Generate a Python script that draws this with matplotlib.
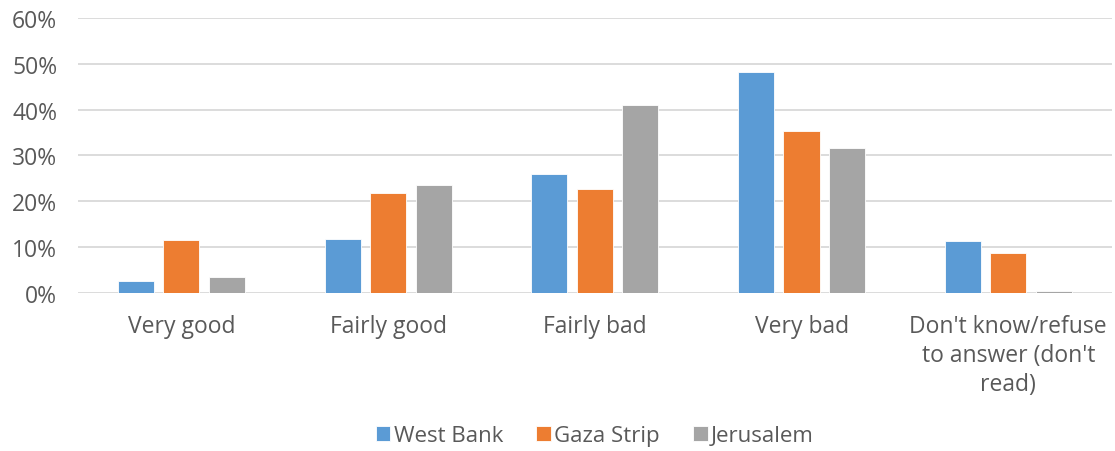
import numpy as np
import matplotlib.pyplot as plt
from matplotlib.ticker import PercentFormatter

categories = ["Very good", "Fairly good", "Fairly bad", "Very bad",
              "Don't know/refuse\nto answer (don't\nread)"]
west_bank = [2.5, 11.8, 25.9, 48.3, 11.4]
gaza_strip = [11.5, 21.7, 22.7, 35.4, 8.7]
jerusalem = [3.4, 23.5, 41.0, 31.6, 0.3]

series = [("West Bank", west_bank, "#5b9bd5"),
          ("Gaza Strip", gaza_strip, "#ed7d31"),
          ("Jerusalem", jerusalem, "#a5a5a5")]

plt.rcParams['font.family'] = ['Open Sans', 'DejaVu Sans']
text_color = "#595959"

fig = plt.figure(figsize=(11.15, 4.52), dpi=100)
ax = fig.add_axes([0.07, 0.35, 0.927, 0.608])

x = np.arange(len(categories))
width = 0.175
step = 0.22
for i, (name, vals, color) in enumerate(series):
    ax.bar(x + (i - 1) * step, vals, width, color=color, label=name,
           edgecolor="white", linewidth=0.6, zorder=3)

ax.set_xlim(-0.5, len(categories) - 0.5)
ax.set_ylim(0, 60)
ax.set_yticks(range(0, 61, 10))
ax.yaxis.set_major_formatter(PercentFormatter(decimals=0))
ax.grid(axis="y", color="#d9d9d9", linewidth=1.3, zorder=0)
for s in ax.spines.values():
    s.set_visible(False)
ax.tick_params(axis="both", length=0, labelsize=16.5, colors=text_color)
ax.tick_params(axis="y", pad=15)
ax.tick_params(axis="x", pad=15)
ax.set_xticks(x)
ax.set_xticklabels(categories, linespacing=1.28)

ax.legend(loc="upper center", bbox_to_anchor=(0.5, -0.41), ncol=3,
          frameon=False, fontsize=16, handlelength=0.65, handleheight=0.65,
          handletextpad=0.15, columnspacing=1.5, labelcolor=text_color)

fig.savefig("out.png", dpi=100)
